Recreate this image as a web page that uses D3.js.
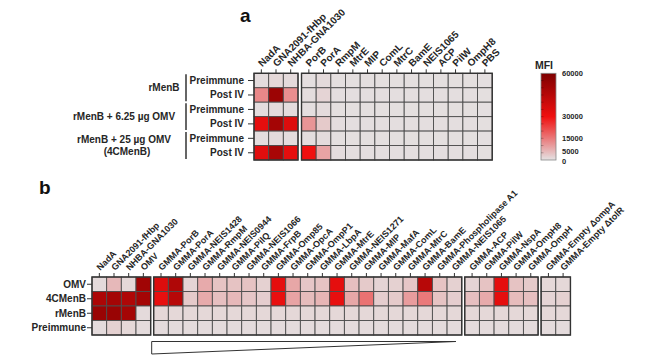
<!DOCTYPE html>
<html><head><meta charset="utf-8">
<script src="https://cdn.jsdelivr.net/npm/d3@7"></script>
<style>
body{margin:0;background:#fff}
text{font-family:Arial,"Liberation Sans",sans-serif;font-weight:bold;fill:#262626}
</style>
</head><body><svg id="c" width="650" height="361"></svg>
<script>
// ---------- DATA ----------
const aCols = ["NadA","GNA2091-fHbp","NHBA-GNA1030","PorB","PorA","RmpM","MtrE","MIP","ComL","MtrC","BamE","NEIS1065","ACP","PilW","OmpH8","PBS"];
const aGroups = [3, 13];
const aRowLabels = ["Preimmune","Post IV","Preimmune","Post IV","Preimmune","Post IV"];
const aGroupLabels = [["rMenB"],["rMenB + 6.25 µg OMV"],["rMenB + 25 µg OMV","(4CMenB)"]];
const aValues = [
  [800,1500,1200,600,1200,500,500,500,500,500,500,500,500,500,500,400],
  [13000,52000,12000,800,2000,600,600,600,600,600,600,600,600,600,600,500],
  [700,1200,900,600,1000,500,500,500,500,500,500,500,500,500,500,400],
  [33000,50000,35000,11000,3500,700,600,600,600,600,600,600,600,600,600,500],
  [700,1200,900,700,1000,500,500,500,500,500,500,500,500,500,500,400],
  [34000,49000,33000,30000,9000,800,600,600,600,600,600,600,600,600,600,500]
];
const bCols = ["NadA","GNA2091-fHbp","NHBA-GNA1030","OMV",
  "GMMA-PorB","GMMA-PorA","GMMA-NEIS1428","GMMA-RmpM","GMMA-NEIS0944","GMMA-PilQ","GMMA-NEIS1066","GMMA-FrpB","GMMA-Omp85","GMMA-OpcA","GMMA-OmpP1","GMMA-LbpA","GMMA-MtrE","GMMA-NEIS1271","GMMA-MIP","GMMA-MafA","GMMA-ComL","GMMA-MtrC","GMMA-BamE","GMMA-Phospholipase A1","GMMA-NEIS1065",
  "GMMA-ACP","GMMA-PilW","GMMA-NspA","GMMA-OmpH8","GMMA-OmpH",
  "GMMA-Empty ΔompA","GMMA-Empty ΔtolR"];
const bGroups = [4, 21, 5, 2];
const bRows = ["OMV","4CMenB","rMenB","Preimmune"];
const bValues = [
  [1200,6000,1500,51000, 35000,47000,2000,8000,4500,4500,4500,2500,33000,8500,4000,4500,33000,5000,3500,2000,2500,4000,45000,4500,2500, 2000,4500,33000,4500,3500, 1500,1500],
  [48000,50000,47000,50000, 32000,45000,3500,8000,5000,6000,4000,3000,32000,9000,5500,6500,32000,8500,16000,3000,3500,10000,15000,4500,3000, 5000,8000,33000,5500,5000, 2000,2500],
  [53000,53000,50000,1200, 1500,1500,1500,1500,1500,1500,1500,1500,1500,1500,1500,1500,1500,1500,1500,1500,1500,1500,1500,1500,1500, 1500,1500,1500,1500,1500, 1500,1500],
  [1000,2500,1500,1000, 1000,1000,1000,1000,1000,1000,1000,1000,1000,1000,1000,1000,1000,1000,1000,1000,1000,1000,1000,1000,1000, 1000,1000,1000,1000,1000, 1000,1000]
];
const legendTicks = [0,5000,15000,30000,60000];

// ---------- DRAW ----------
const svg = d3.select("#c");
svg.append("rect").attr("width",650).attr("height",361).attr("fill","#fff");
const color = d3.scaleLinear().domain([0,30000,60000]).range(["#e4e2e3","#f01010","#7e0000"]);

function heat(cfg){
  const {cols, groups, values, left, top, cw, rh, gap, labelDx, labelDy, fs} = cfg;
  const gi = [];
  groups.forEach((n,g)=>{for(let k=0;k<n;k++) gi.push(g);});
  const xb = d3.scaleBand().domain(cols).range([0, cols.length*cw]);
  const X = c => left + xb(c) + gi[cols.indexOf(c)]*gap;
  const yb = d3.scaleBand().domain(d3.range(values.length)).range([top, top+values.length*rh]);
  const g = svg.append("g");
  values.forEach((row,r)=>{
    g.selectAll(null).data(row).enter().append("rect")
      .attr("x",(v,i)=>X(cols[i])).attr("y",yb(r))
      .attr("width",cw).attr("height",rh)
      .attr("fill",v=>color(v)).attr("stroke","#4d4d4d").attr("stroke-width",0.9);
  });
  let start = 0;
  groups.forEach(n=>{
    const c0 = cols[start], c1 = cols[start+n-1];
    g.append("rect").attr("x",X(c0)).attr("y",top)
      .attr("width",X(c1)+cw-X(c0)).attr("height",values.length*rh)
      .attr("fill","none").attr("stroke","#333").attr("stroke-width",1.4);
    start += n;
  });
  g.selectAll(null).data(cols).enter().append("line")
    .attr("x1",c=>X(c)+cw/2).attr("x2",c=>X(c)+cw/2)
    .attr("y1",top-4).attr("y2",top).attr("stroke","#333").attr("stroke-width",1);
  g.selectAll(null).data(cols).enter().append("text")
    .attr("transform",c=>`translate(${X(c)+cw/2+labelDx},${top+labelDy}) rotate(-45)`)
    .attr("font-size",fs).text(c=>c);
  return {X, yb, xb};
}

// Panel a
const A = heat({cols:aCols, groups:aGroups, values:aValues, left:254, top:73.3, cw:14.67, rh:14.45, gap:3.5, labelDx:1, labelDy:-6, fs:10});
svg.append("text").attr("x",240).attr("y",22).attr("font-size",19).style("fill","#111").text("a");
aRowLabels.forEach((t,r)=>{
  const cy = A.yb(r)+A.yb.bandwidth()/2;
  svg.append("text").attr("x",244).attr("y",cy).attr("dy","0.35em").attr("text-anchor","end").attr("font-size",10).text(t);
  svg.append("line").attr("x1",248).attr("x2",254).attr("y1",cy).attr("y2",cy).attr("stroke","#333");
});
const aGroupPos = [[164],[124],[124,127]];
aGroupLabels.forEach((lines,k)=>{
  const y0 = A.yb(2*k)+1, y1 = A.yb(2*k+1)+A.yb.bandwidth()-1;
  svg.append("line").attr("x1",186).attr("x2",186).attr("y1",y0).attr("y2",y1).attr("stroke","#333").attr("stroke-width",1.5);
  const mid = (y0+y1)/2;
  lines.forEach((t,j)=>{
    const yy = mid + (j-(lines.length-1)/2)*11.5;
    svg.append("text").attr("x",aGroupPos[k][j]).attr("y",yy).attr("dy","0.35em").attr("text-anchor","middle").attr("font-size",10).text(t);
  });
});

// Legend
const yL = d3.scaleLinear().domain([0,60000]).range([160,73.3]);
const grad = svg.append("defs").append("linearGradient").attr("id","mfi").attr("x1",0).attr("x2",0).attr("y1",1).attr("y2",0);
d3.range(0,60001,5000).forEach(v=>grad.append("stop").attr("offset",v/60000).attr("stop-color",color(v)));
svg.append("rect").attr("x",541).attr("y",yL(60000)).attr("width",15).attr("height",yL(0)-yL(60000))
  .attr("fill","url(#mfi)").attr("stroke","#888").attr("stroke-width",0.8);
d3.range(5000,60000,5000).forEach(v=>svg.append("line").attr("x1",541).attr("x2",543.5).attr("y1",yL(v)).attr("y2",yL(v)).attr("stroke","rgba(0,0,0,0.35)").attr("stroke-width",0.7));
const tickNudge = {0:1.5, 5000:-1.2};
legendTicks.forEach(v=>svg.append("text").attr("x",562).attr("y",yL(v)+(tickNudge[v]||0)).attr("dy","0.35em").attr("font-size",7.5).text(v));
svg.append("text").attr("x",544).attr("y",68.5).attr("text-anchor","middle").attr("font-size",10.5).text("MFI");

// Panel b
const B = heat({cols:bCols, groups:bGroups, values:bValues, left:92, top:277, cw:14.67, rh:14.5, gap:3, labelDx:1, labelDy:-6, fs:9});
svg.append("text").attr("x",39).attr("y",194).attr("font-size",19).style("fill","#111").text("b");
bRows.forEach((t,r)=>{
  const cy = B.yb(r)+B.yb.bandwidth()/2;
  svg.append("text").attr("x",86).attr("y",cy).attr("dy","0.35em").attr("text-anchor","end").attr("font-size",10).text(t);
  svg.append("line").attr("x1",87).attr("x2",92).attr("y1",cy).attr("y2",cy).attr("stroke","#333");
});
// wedge
const wx0 = B.X("GMMA-PorB")-2, wx1 = B.X("GMMA-NEIS1065")+14.67*0.6;
svg.append("path").attr("d",`M${wx0},341.5 L${wx1},341.5 L${wx0},354 Z`)
  .attr("fill","none").attr("stroke","#333").attr("stroke-width",1);
</script>
</body></html>
